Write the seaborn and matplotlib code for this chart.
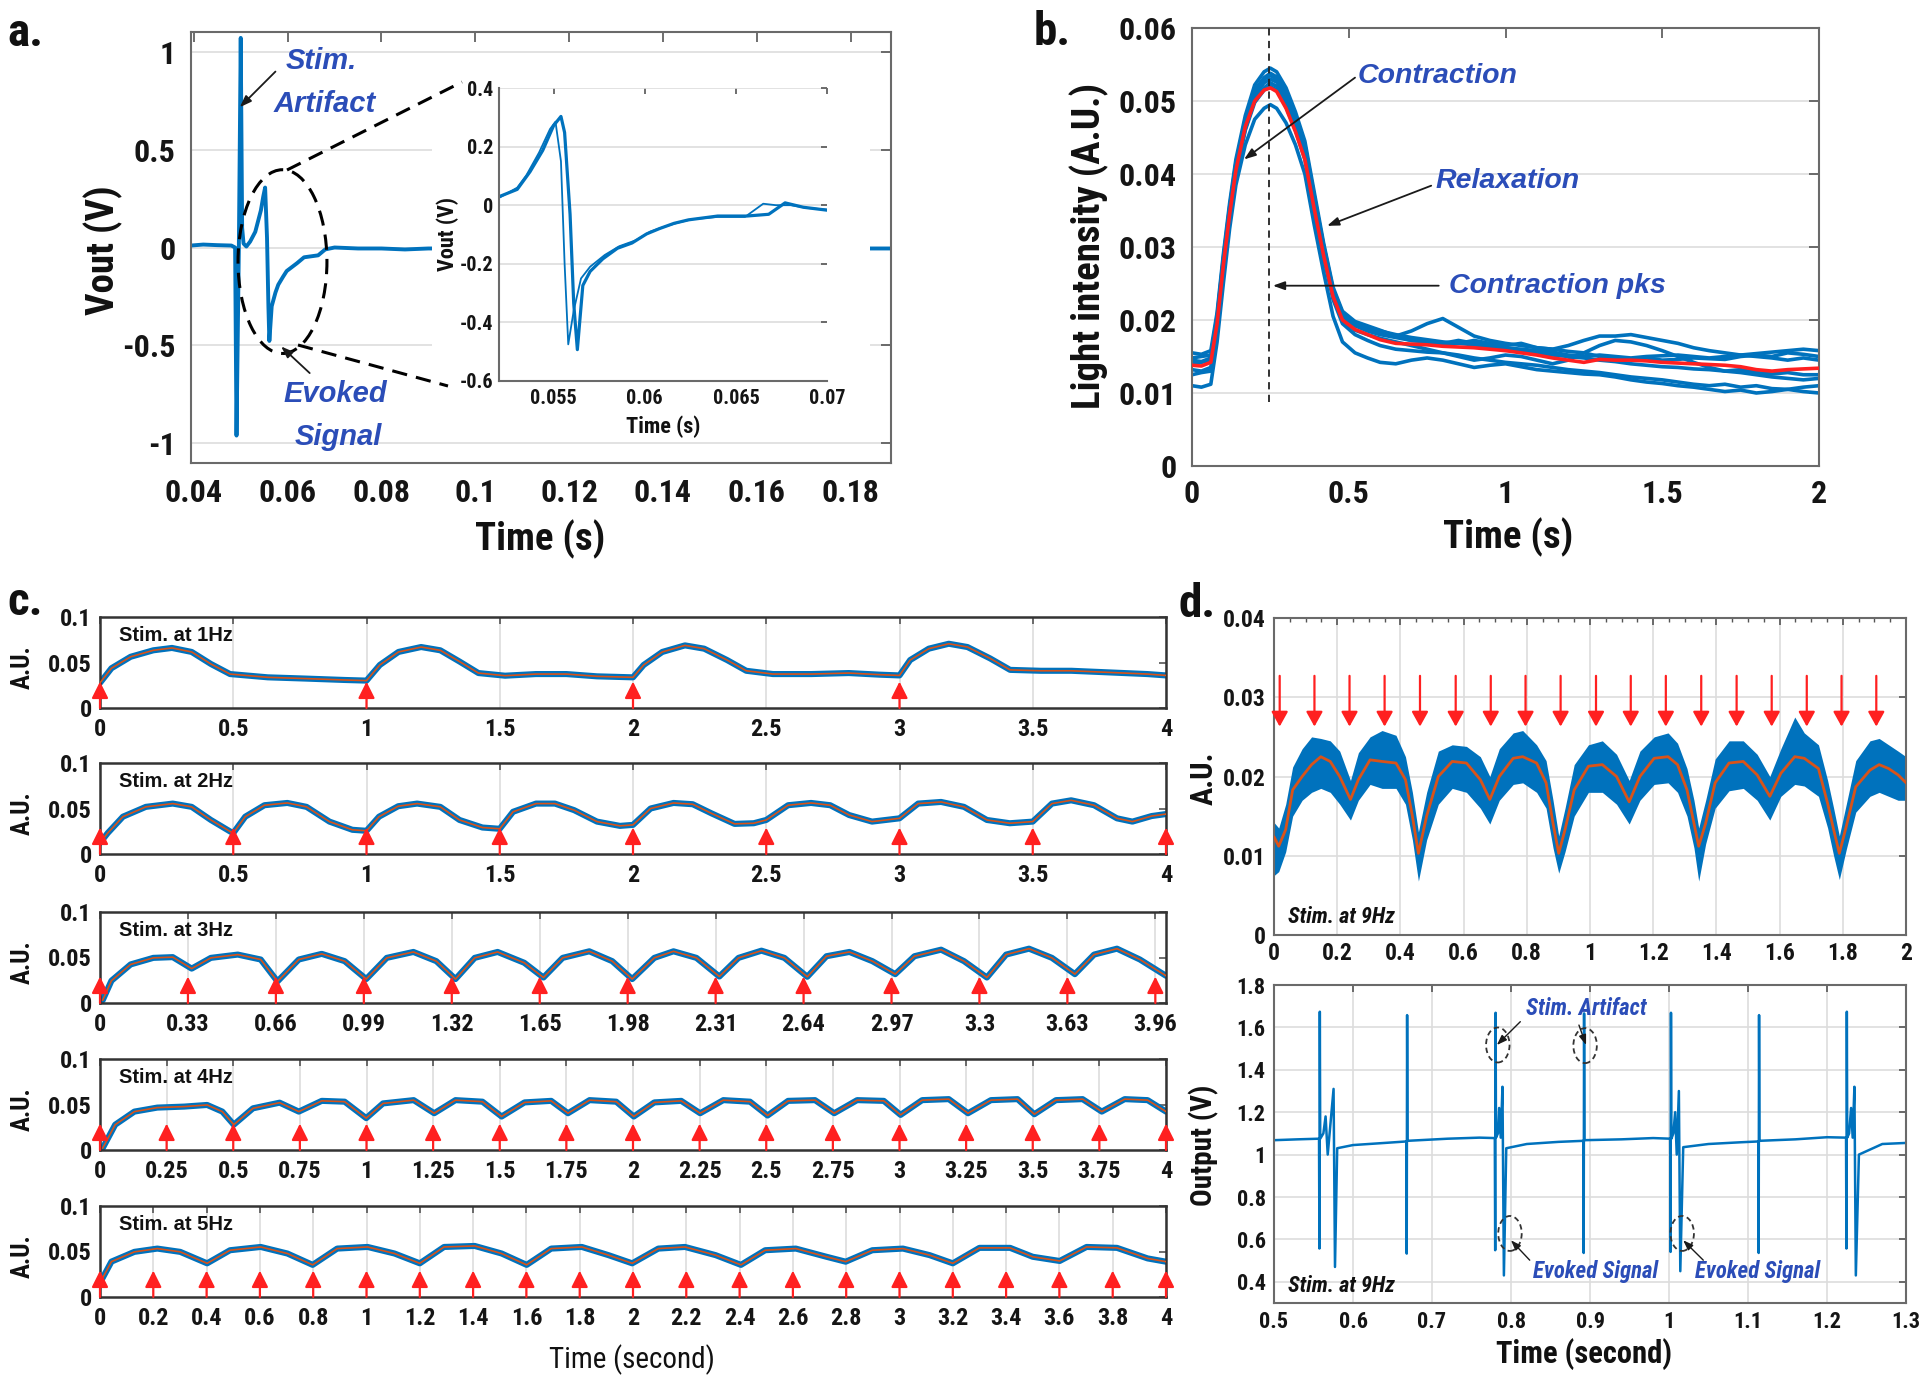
import matplotlib
matplotlib.use('Agg')
import matplotlib.pyplot as plt
import seaborn as sns
from matplotlib.patches import Ellipse
from matplotlib.lines import Line2D
from matplotlib.ticker import MultipleLocator
from matplotlib import font_manager
from matplotlib.font_manager import FontProperties

sns.set_theme(style='white')
plt.rcParams['font.family'] = ['Liberation Sans', 'DejaVu Sans']
plt.rcParams['font.weight'] = 'bold'
plt.rcParams['axes.unicode_minus'] = False

# ---------------- DATA ----------------
# panel a: main trace
a_t = [0.0394, 0.042, 0.045, 0.048, 0.0488, 0.0491, 0.0496, 0.0500, 0.0503, 0.0506, 0.0512, 0.052, 0.0531,
       0.0543, 0.0548, 0.0552, 0.0556, 0.0559, 0.0561, 0.0566, 0.0574, 0.058, 0.059, 0.0598, 0.062, 0.0635,
       0.0665, 0.068, 0.070, 0.075, 0.080, 0.085, 0.090, 0.100, 0.120, 0.140, 0.160, 0.180, 0.184, 0.1886]
a_v = [0.01, 0.015, 0.012, 0.01, 0.0, -0.96, 0.0, 1.07, 0.1, 0.02, 0.005, 0.03, 0.08,
       0.19, 0.26, 0.306, 0.05, -0.3, -0.477, -0.3, -0.23, -0.19, -0.15, -0.12, -0.08, -0.05,
       -0.04, -0.01, 0.0, -0.005, -0.005, -0.01, -0.005, -0.005, -0.005, -0.005, -0.005, -0.005, -0.005, -0.005]
# panel a: inset traces
ia_t1 = [0.052, 0.053, 0.0537, 0.0544, 0.055, 0.0554, 0.0556, 0.0559, 0.0561, 0.0563, 0.0566, 0.057, 0.0577,
         0.0585, 0.0593, 0.0601, 0.0608, 0.0616, 0.0624, 0.064, 0.0656, 0.0668, 0.0677, 0.0687, 0.070]
ia_v1 = [0.029, 0.054, 0.114, 0.187, 0.272, 0.303, 0.248, -0.031, -0.335, -0.493, -0.274, -0.226, -0.183,
         -0.147, -0.129, -0.098, -0.08, -0.062, -0.05, -0.037, -0.037, -0.031, 0.008, -0.007, -0.017]
ia_t2 = [0.052, 0.053, 0.0535, 0.0542, 0.0548, 0.0551, 0.0554, 0.0556, 0.0558, 0.0561, 0.0565, 0.057, 0.0578,
         0.0586, 0.0595, 0.0603, 0.061, 0.0618, 0.0626, 0.064, 0.0655, 0.0665, 0.0672, 0.068, 0.069, 0.070]
ia_v2 = [0.025, 0.06, 0.102, 0.18, 0.26, 0.285, 0.15, -0.2, -0.475, -0.36, -0.25, -0.21, -0.17,
         -0.14, -0.12, -0.09, -0.075, -0.06, -0.048, -0.04, -0.04, 0.005, 0.0, 0.0, -0.01, -0.015]
a_xticks = [0.04, 0.06, 0.08, 0.10, 0.12, 0.14, 0.16, 0.18]
a_xlabels = ['0.04', '0.06', '0.08', '0.1', '0.12', '0.14', '0.16', '0.18']
a_yticks = [-1, -0.5, 0, 0.5, 1]
a_ylabels = ['-1', '-0.5', '0', '0.5', '1']
ia_xticks = [0.055, 0.06, 0.065, 0.07]
ia_xlabels = ['0.055', '0.06', '0.065', '0.07']
ia_yticks = [-0.6, -0.4, -0.2, 0, 0.2, 0.4]
ia_ylabels = ['-0.6', '-0.4', '-0.2', '0', '0.2', '0.4']

# panel b: contraction traces
b_t = [0, 0.03, 0.06, 0.08, 0.1, 0.12, 0.14, 0.17, 0.2, 0.23, 0.25, 0.27, 0.3, 0.33, 0.36, 0.39, 0.42, 0.45,
       0.48, 0.52, 0.56, 0.6, 0.65, 0.7, 0.75, 0.8, 0.85, 0.9, 0.95, 1.0, 1.05, 1.1, 1.15, 1.2, 1.25, 1.3,
       1.35, 1.4, 1.45, 1.5, 1.55, 1.6, 1.65, 1.7, 1.75, 1.8, 1.85, 1.9, 1.95, 2.0]
b_mean = [0.0138, 0.0137, 0.0142, 0.0195, 0.0275, 0.0345, 0.0405, 0.0465, 0.0500, 0.0515, 0.0518, 0.0513,
          0.0490, 0.0458, 0.0420, 0.0352, 0.0288, 0.0232, 0.0200, 0.0187, 0.0180, 0.0173, 0.0168, 0.0167,
          0.0166, 0.0164, 0.0163, 0.0162, 0.0160, 0.0158, 0.0155, 0.0152, 0.0148, 0.0145, 0.0142, 0.0146,
          0.0145, 0.0145, 0.0144, 0.0142, 0.0141, 0.0140, 0.0139, 0.0138, 0.0136, 0.0132, 0.0130, 0.0132,
          0.0133, 0.0134]
b_tr1 = [0.0155, 0.0153, 0.0158, 0.021, 0.029, 0.036, 0.042, 0.048, 0.0522, 0.0540, 0.0545, 0.0540, 0.0518,
         0.0485, 0.0445, 0.0375, 0.0305, 0.0245, 0.0212, 0.0198, 0.0192, 0.0186, 0.0178, 0.0172, 0.0170,
         0.0168, 0.0172, 0.0168, 0.0165, 0.0162, 0.0160, 0.0158, 0.0156, 0.0152, 0.0150, 0.0152, 0.0150,
         0.0148, 0.0150, 0.0151, 0.0152, 0.0150, 0.0148, 0.0150, 0.0152, 0.0154, 0.0156, 0.0158, 0.0160, 0.0158]
b_tr2 = [0.0148, 0.0150, 0.0152, 0.0205, 0.0285, 0.0355, 0.0415, 0.0475, 0.0515, 0.0532, 0.0538, 0.0533,
         0.0510, 0.0478, 0.0440, 0.0370, 0.0300, 0.0240, 0.0208, 0.0195, 0.0188, 0.0182, 0.0178, 0.0185,
         0.0195, 0.0202, 0.0190, 0.0178, 0.0172, 0.0168, 0.0165, 0.0162, 0.0160, 0.0157, 0.0155, 0.0150,
         0.0148, 0.0146, 0.0148, 0.0145, 0.0146, 0.0148, 0.0147, 0.0146, 0.0150, 0.0152, 0.0150, 0.0155,
         0.0153, 0.0150]
b_tr3 = [0.0140, 0.0142, 0.0145, 0.0200, 0.0280, 0.0350, 0.0410, 0.0470, 0.0508, 0.0525, 0.0530, 0.0526,
         0.0505, 0.0472, 0.0435, 0.0365, 0.0298, 0.0238, 0.0205, 0.0192, 0.0185, 0.0180, 0.0176, 0.0172,
         0.0170, 0.0166, 0.0168, 0.0172, 0.0168, 0.0165, 0.0168, 0.0162, 0.0160, 0.0165, 0.0172, 0.0178,
         0.0178, 0.0180, 0.0176, 0.0172, 0.0168, 0.0162, 0.0158, 0.0155, 0.0152, 0.0150, 0.0148, 0.0145,
         0.0148, 0.0145]
b_tr4 = [0.0132, 0.0130, 0.0135, 0.0190, 0.0270, 0.0340, 0.0400, 0.0460, 0.0498, 0.0515, 0.0520, 0.0515,
         0.0492, 0.0460, 0.0420, 0.0350, 0.0285, 0.0228, 0.0195, 0.0180, 0.0172, 0.0165, 0.0160, 0.0158,
         0.0156, 0.0155, 0.0152, 0.0148, 0.0145, 0.0142, 0.0140, 0.0138, 0.0135, 0.0132, 0.0130, 0.0128,
         0.0125, 0.0122, 0.0120, 0.0118, 0.0115, 0.0112, 0.0110, 0.0112, 0.0108, 0.0110, 0.0106, 0.0105,
         0.0108, 0.0110]
b_tr5 = [0.0110, 0.0108, 0.0112, 0.0170, 0.0250, 0.0325, 0.0385, 0.0440, 0.0475, 0.0490, 0.0495, 0.0490,
         0.0470, 0.0440, 0.0400, 0.0330, 0.0265, 0.0205, 0.0170, 0.0155, 0.0148, 0.0142, 0.0140, 0.0145,
         0.0148, 0.0145, 0.0140, 0.0135, 0.0138, 0.0140, 0.0136, 0.0132, 0.0130, 0.0128, 0.0126, 0.0125,
         0.0122, 0.0118, 0.0115, 0.0113, 0.0110, 0.0108, 0.0105, 0.0102, 0.0104, 0.0100, 0.0102, 0.0105,
         0.0102, 0.0100]
b_tr6 = [0.0125, 0.0128, 0.0130, 0.0188, 0.0268, 0.0340, 0.0402, 0.0462, 0.0502, 0.0518, 0.0525, 0.0520,
         0.0498, 0.0465, 0.0428, 0.0358, 0.0292, 0.0235, 0.0200, 0.0186, 0.0180, 0.0175, 0.0170, 0.0165,
         0.0160, 0.0155, 0.0150, 0.0145, 0.0148, 0.0152, 0.0150, 0.0145, 0.0140, 0.0145, 0.0155, 0.0165,
         0.0172, 0.0170, 0.0165, 0.0158, 0.0150, 0.0142, 0.0135, 0.0130, 0.0128, 0.0125, 0.0122, 0.0120,
         0.0118, 0.0120]
b_tr7 = [0.0145, 0.0143, 0.0148, 0.0202, 0.0282, 0.0352, 0.0412, 0.0472, 0.0512, 0.0530, 0.0535, 0.0530,
         0.0508, 0.0475, 0.0438, 0.0368, 0.0302, 0.0242, 0.0210, 0.0196, 0.0190, 0.0185, 0.0180, 0.0176,
         0.0173, 0.0170, 0.0168, 0.0166, 0.0163, 0.0160, 0.0157, 0.0155, 0.0152, 0.0150, 0.0148, 0.0145,
         0.0143, 0.0140, 0.0138, 0.0136, 0.0135, 0.0133, 0.0132, 0.0130, 0.0132, 0.0128, 0.0126, 0.0128,
         0.0125, 0.0125]
b_peak_t = 0.247
b_xticks = [0, 0.5, 1, 1.5, 2]
b_xlabels = ['0', '0.5', '1', '1.5', '2']
b_yticks = [0, 0.01, 0.02, 0.03, 0.04, 0.05, 0.06]
b_ylabels = ['0', '0.01', '0.02', '0.03', '0.04', '0.05', '0.06']

# panel c: five stimulation frequencies
c1_t = [0, 0.043, 0.115, 0.2, 0.27, 0.344, 0.416, 0.488, 0.63, 0.775, 0.918, 1.0, 1.05, 1.12, 1.205, 1.277,
        1.35, 1.42, 1.52, 1.636, 1.75, 1.865, 2.0, 2.04, 2.11, 2.195, 2.267, 2.353, 2.425, 2.525, 2.67, 2.81,
        2.927, 3.0, 3.04, 3.11, 3.185, 3.255, 3.34, 3.415, 3.53, 3.645, 3.788, 3.93, 4.0]
c1_v = [0.0276, 0.0437, 0.0563, 0.0634, 0.066, 0.0616, 0.0484, 0.0373, 0.0337, 0.0323, 0.0308, 0.0301,
        0.0473, 0.0616, 0.067, 0.0634, 0.0509, 0.0384, 0.0355, 0.0373, 0.0373, 0.0348, 0.0337, 0.0473,
        0.0616, 0.0688, 0.0652, 0.0527, 0.0409, 0.0373, 0.0373, 0.0384, 0.0366, 0.0358, 0.0527, 0.0652,
        0.0706, 0.067, 0.0545, 0.0419, 0.0409, 0.0409, 0.0391, 0.0373, 0.0358]
c2_t = [0, 0.029, 0.086, 0.172, 0.273, 0.344, 0.416, 0.488, 0.5, 0.545, 0.617, 0.703, 0.775, 0.861, 0.947,
        1.0, 1.047, 1.119, 1.19, 1.277, 1.349, 1.435, 1.5, 1.55, 1.636, 1.707, 1.779, 1.865, 1.951, 2.0,
        2.066, 2.152, 2.224, 2.295, 2.381, 2.453, 2.5, 2.582, 2.668, 2.74, 2.811, 2.897, 3.0, 3.07, 3.156,
        3.242, 3.328, 3.414, 3.5, 3.572, 3.644, 3.73, 3.816, 3.874, 3.946, 4.0]
c2_v = [0.0122, 0.023, 0.041, 0.0518, 0.0554, 0.0518, 0.0374, 0.0248, 0.023, 0.041, 0.0536, 0.0561, 0.0518,
        0.0356, 0.0266, 0.0255, 0.041, 0.0525, 0.0554, 0.0518, 0.0374, 0.0291, 0.0277, 0.0464, 0.0554,
        0.0554, 0.0482, 0.0356, 0.0309, 0.032, 0.05, 0.0561, 0.0547, 0.0446, 0.0331, 0.0338, 0.0374, 0.0536,
        0.0561, 0.0536, 0.0428, 0.0356, 0.0392, 0.0554, 0.0572, 0.0518, 0.0374, 0.0338, 0.0356, 0.0554,
        0.059, 0.0536, 0.0392, 0.0356, 0.0417, 0.0439]
c3_t = [0.01, 0.043, 0.115, 0.2, 0.273, 0.344, 0.416, 0.517, 0.603, 0.666, 0.746, 0.832, 0.918, 0.999, 1.076,
        1.176, 1.262, 1.334, 1.406, 1.492, 1.592, 1.664, 1.736, 1.836, 1.922, 1.997, 2.08, 2.152, 2.238,
        2.324, 2.396, 2.482, 2.568, 2.654, 2.726, 2.812, 2.898, 2.984, 3.056, 3.156, 3.242, 3.328, 3.4,
        3.486, 3.572, 3.658, 3.73, 3.816, 3.902, 4.0]
c3_v = [0.003, 0.0245, 0.0424, 0.0496, 0.0504, 0.0378, 0.0496, 0.0532, 0.0478, 0.0237, 0.0478, 0.054, 0.046,
        0.0263, 0.0496, 0.0561, 0.046, 0.0263, 0.0496, 0.0561, 0.0442, 0.028, 0.0496, 0.0568, 0.046, 0.0263,
        0.0496, 0.0568, 0.0496, 0.0291, 0.0496, 0.0575, 0.0496, 0.0288, 0.0514, 0.0561, 0.046, 0.0317,
        0.0514, 0.0586, 0.046, 0.028, 0.0532, 0.0597, 0.0496, 0.0317, 0.0532, 0.0597, 0.0478, 0.0299]
c4_t = [0.01, 0.057, 0.129, 0.215, 0.316, 0.402, 0.459, 0.502, 0.574, 0.674, 0.746, 0.832, 0.918, 0.999,
        1.062, 1.177, 1.254, 1.334, 1.435, 1.507, 1.593, 1.693, 1.756, 1.837, 1.937, 2.003, 2.08, 2.181,
        2.252, 2.339, 2.439, 2.505, 2.582, 2.683, 2.755, 2.841, 2.941, 3.004, 3.085, 3.185, 3.257, 3.343,
        3.443, 3.506, 3.587, 3.687, 3.759, 3.845, 3.931, 4.0]
c4_v = [0.002, 0.0278, 0.0422, 0.0466, 0.0477, 0.0495, 0.0422, 0.0278, 0.0458, 0.052, 0.0422, 0.054, 0.0531,
        0.035, 0.0512, 0.0548, 0.0404, 0.0548, 0.0531, 0.0368, 0.0523, 0.054, 0.0404, 0.0548, 0.0531, 0.0368,
        0.0523, 0.054, 0.0404, 0.0548, 0.0531, 0.0379, 0.054, 0.0548, 0.0404, 0.0548, 0.054, 0.0386, 0.0548,
        0.0559, 0.0404, 0.0548, 0.0559, 0.0393, 0.0548, 0.0559, 0.0422, 0.0559, 0.0548, 0.0422]
c5_t = [0, 0.043, 0.129, 0.215, 0.301, 0.402, 0.488, 0.603, 0.703, 0.798, 0.89, 1.004, 1.105, 1.2, 1.291,
        1.406, 1.507, 1.601, 1.693, 1.808, 1.908, 1.997, 2.095, 2.195, 2.31, 2.405, 2.496, 2.611, 2.726,
        2.798, 2.898, 3.013, 3.113, 3.2, 3.3, 3.415, 3.5, 3.601, 3.702, 3.816, 3.931, 4.0]
c5_v = [0.0155, 0.0389, 0.0496, 0.0532, 0.0496, 0.037, 0.0514, 0.055, 0.0478, 0.0353, 0.0532, 0.055, 0.0478,
        0.037, 0.055, 0.0561, 0.0478, 0.0353, 0.0532, 0.055, 0.046, 0.037, 0.0532, 0.055, 0.046, 0.0353,
        0.0514, 0.0532, 0.0442, 0.0388, 0.0514, 0.0532, 0.046, 0.037, 0.054, 0.054, 0.0442, 0.0396, 0.055,
        0.054, 0.0424, 0.0388]
c_names = ['Stim. at 1Hz', 'Stim. at 2Hz', 'Stim. at 3Hz', 'Stim. at 4Hz', 'Stim. at 5Hz']
c1_stim = [0, 1, 2, 3]
c2_stim = [0, 0.5, 1, 1.5, 2, 2.5, 3, 3.5, 4]
c3_stim = [0, 0.33, 0.66, 0.99, 1.32, 1.65, 1.98, 2.31, 2.64, 2.97, 3.3, 3.63, 3.96]
c4_stim = [0, 0.25, 0.5, 0.75, 1, 1.25, 1.5, 1.75, 2, 2.25, 2.5, 2.75, 3, 3.25, 3.5, 3.75, 4]
c5_stim = [0, 0.2, 0.4, 0.6, 0.8, 1, 1.2, 1.4, 1.6, 1.8, 2, 2.2, 2.4, 2.6, 2.8, 3, 3.2, 3.4, 3.6, 3.8, 4]
c1_xlabels = ['0', '0.5', '1', '1.5', '2', '2.5', '3', '3.5', '4']
c3_xlabels = ['0', '0.33', '0.66', '0.99', '1.32', '1.65', '1.98', '2.31', '2.64', '2.97', '3.3', '3.63', '3.96']
c4_xlabels = ['0', '0.25', '0.5', '0.75', '1', '1.25', '1.5', '1.75', '2', '2.25', '2.5', '2.75', '3',
              '3.25', '3.5', '3.75', '4']
c5_xlabels = ['0', '0.2', '0.4', '0.6', '0.8', '1', '1.2', '1.4', '1.6', '1.8', '2', '2.2', '2.4', '2.6',
              '2.8', '3', '3.2', '3.4', '3.6', '3.8', '4']
c_yticks = [0, 0.05, 0.1]
c_ylabels = ['0', '0.05', '0.1']

# panel d (top): 9 Hz optical signal
d1_t = [0.0, 0.015, 0.037, 0.059, 0.089, 0.119, 0.148, 0.178, 0.208, 0.242, 0.267, 0.304, 0.342, 0.386,
        0.416, 0.438, 0.457, 0.483, 0.520, 0.564, 0.609, 0.653, 0.683, 0.713, 0.757, 0.787, 0.831, 0.861,
        0.883, 0.901, 0.921, 0.950, 0.995, 1.039, 1.084, 1.124, 1.158, 1.203, 1.247, 1.277, 1.307, 1.329,
        1.344, 1.366, 1.396, 1.440, 1.485, 1.529, 1.569, 1.604, 1.648, 1.678, 1.723, 1.752, 1.771, 1.789,
        1.811, 1.841, 1.886, 1.915, 1.945, 1.975, 2.000]
d1_smooth = [0.0124, 0.0112, 0.0133, 0.0183, 0.0200, 0.0215, 0.0225, 0.0219, 0.0200, 0.0171, 0.0196,
             0.0221, 0.0219, 0.0217, 0.0196, 0.0150, 0.0103, 0.0150, 0.0200, 0.0219, 0.0217, 0.0196, 0.0171,
             0.0200, 0.0223, 0.0225, 0.0217, 0.0192, 0.0141, 0.0103, 0.0133, 0.0183, 0.0213, 0.0215, 0.0200,
             0.0168, 0.0200, 0.0223, 0.0225, 0.0215, 0.0183, 0.0141, 0.0112, 0.0141, 0.0192, 0.0217, 0.0219,
             0.0202, 0.0175, 0.0204, 0.0225, 0.0223, 0.0210, 0.0166, 0.0133, 0.0103, 0.0137, 0.0187, 0.0208,
             0.0215, 0.0210, 0.0202, 0.0192]
d1_upper = [0.0142, 0.0135, 0.0165, 0.0212, 0.0235, 0.0250, 0.0248, 0.0245, 0.0232, 0.0195, 0.0230, 0.0250,
            0.0258, 0.0252, 0.0225, 0.0180, 0.0130, 0.0180, 0.0232, 0.0240, 0.0238, 0.0225, 0.0200, 0.0235,
            0.0255, 0.0258, 0.0240, 0.0220, 0.0170, 0.0125, 0.0160, 0.0215, 0.0240, 0.0245, 0.0228, 0.0195,
            0.0232, 0.0250, 0.0255, 0.0242, 0.0210, 0.0170, 0.0135, 0.0170, 0.0222, 0.0245, 0.0245, 0.0228,
            0.0200, 0.0235, 0.0275, 0.0255, 0.0240, 0.0195, 0.0160, 0.0125, 0.0165, 0.0220, 0.0245, 0.0248,
            0.0240, 0.0232, 0.0225]
d1_lower = [0.0075, 0.0080, 0.0105, 0.0150, 0.0170, 0.0180, 0.0185, 0.0180, 0.0165, 0.0145, 0.0170, 0.0190,
            0.0185, 0.0185, 0.0165, 0.0120, 0.0068, 0.0120, 0.0165, 0.0185, 0.0180, 0.0160, 0.0140, 0.0170,
            0.0190, 0.0192, 0.0180, 0.0160, 0.0110, 0.0078, 0.0105, 0.0150, 0.0180, 0.0180, 0.0165, 0.0140,
            0.0170, 0.0190, 0.0192, 0.0180, 0.0150, 0.0110, 0.0068, 0.0115, 0.0160, 0.0182, 0.0185, 0.0170,
            0.0145, 0.0175, 0.0190, 0.0188, 0.0175, 0.0135, 0.0100, 0.0070, 0.0108, 0.0155, 0.0175, 0.0180,
            0.0175, 0.0170, 0.0170]
d1_stim = [0.018, 0.128, 0.239, 0.35, 0.462, 0.575, 0.686, 0.796, 0.907, 1.019, 1.129, 1.24, 1.352, 1.464,
           1.575, 1.686, 1.796, 1.906]
d1_xticks = [0, 0.2, 0.4, 0.6, 0.8, 1.0, 1.2, 1.4, 1.6, 1.8, 2.0]
d1_xlabels = ['0', '0.2', '0.4', '0.6', '0.8', '1', '1.2', '1.4', '1.6', '1.8', '2']
d1_yticks = [0, 0.01, 0.02, 0.03, 0.04]
d1_ylabels = ['0', '0.01', '0.02', '0.03', '0.04']

# panel d (bottom): 9 Hz electrical output
d2_t = [0.5, 0.53, 0.557, 0.5575, 0.5580, 0.5585, 0.5625, 0.5653, 0.568, 0.5754, 0.5772, 0.580, 0.6, 0.64,
        0.6675, 0.668, 0.6685, 0.669, 0.72, 0.76, 0.7795, 0.780, 0.7805, 0.781, 0.7835, 0.785, 0.787, 0.7892,
        0.791, 0.794, 0.82, 0.86, 0.8915, 0.892, 0.8925, 0.893, 0.94, 0.98, 1.0015, 1.002, 1.0025, 1.003,
        1.0055, 1.0078, 1.0098, 1.0125, 1.0143, 1.018, 1.05, 1.09, 1.113, 1.1135, 1.114, 1.1145, 1.16, 1.2,
        1.2241, 1.2246, 1.2251, 1.2256, 1.228, 1.2305, 1.2325, 1.2347, 1.2365, 1.2404, 1.27, 1.3]
d2_v = [1.068, 1.072, 1.075, 0.557, 1.674, 1.075, 1.10, 1.18, 1.0, 1.31, 0.47, 1.03, 1.045, 1.055,
        1.062, 0.533, 1.658, 1.065, 1.075, 1.08, 1.078, 0.549, 1.669, 1.08, 1.10, 1.22, 1.08, 1.32,
        0.43, 1.03, 1.05, 1.06, 1.065, 0.536, 1.666, 1.068, 1.072, 1.078, 1.075, 0.541, 1.669, 1.075,
        1.10, 1.2, 1.0, 1.30, 0.45, 1.035, 1.05, 1.058, 1.062, 0.536, 1.658, 1.065, 1.072, 1.082,
        1.08, 0.557, 1.674, 1.08, 1.10, 1.22, 1.08, 1.32, 0.43, 1.0, 1.05, 1.055]
d2_xticks = [0.5, 0.6, 0.7, 0.8, 0.9, 1.0, 1.1, 1.2, 1.3]
d2_xlabels = ['0.5', '0.6', '0.7', '0.8', '0.9', '1', '1.1', '1.2', '1.3']
d2_yticks = [0.4, 0.6, 0.8, 1.0, 1.2, 1.4, 1.6, 1.8]
d2_ylabels = ['0.4', '0.6', '0.8', '1', '1.2', '1.4', '1.6', '1.8']

# ---------------- FONTS ----------------
def _wnum(w):
    if isinstance(w, (int, float)):
        return int(w)
    return {'bold': 700, 'heavy': 800, 'black': 900, 'semibold': 600, 'demibold': 600,
            'medium': 500, 'normal': 400, 'regular': 400, 'book': 400, 'light': 300}.get(str(w).lower(), 400)


def _rank(f):
    n = f.name
    if 'Liberation Sans Narrow' in n:
        return 0
    if 'Arial Narrow' in n:
        return 1
    if 'Roboto Condensed' in n:
        return 2
    if 'Condensed' in n or 'Narrow' in n:
        return 3
    if str(f.stretch).lower() in ('condensed', 'semi-condensed', 'extra-condensed'):
        return 4
    return 99


_cands = sorted([f for f in font_manager.fontManager.ttflist if _rank(f) < 99], key=_rank)


def _pick(bold, italic):
    for f in _cands:
        isb = _wnum(f.weight) >= 600
        isi = str(f.style).lower() in ('italic', 'oblique')
        if isb == bold and isi == italic:
            return f.fname
    return None


NB_FILE = _pick(True, False)
NBI_FILE = _pick(True, True)
NR_FILE = _pick(False, False)
SHRINK = 1.0 if NB_FILE else 0.86


def NF(size, bold=True, italic=False):
    f = (NBI_FILE if italic else NB_FILE) if bold else NR_FILE
    if f:
        return FontProperties(fname=f, size=size)
    return FontProperties(family=['Liberation Sans', 'DejaVu Sans'], weight='bold' if bold else 'normal',
                          style='italic' if italic else 'normal', size=size * SHRINK)


def RF(size, italic=False):
    return FontProperties(family=['Liberation Sans', 'DejaVu Sans'], weight='bold',
                          style='italic' if italic else 'normal', size=size)


# ---------------- STYLE ----------------
BLUE = '#0072BD'
ORANGE = '#D95319'
RED = '#FF2020'
BTXT = '#2B4DB8'
GRID = '#dddddd'
W, H = 1926, 1385


def rect(l, t, r, b):
    return [l / W, 1 - b / H, (r - l) / W, (b - t) / H]


def fx(px):
    return px / W


def fy(py):
    return 1 - py / H


def line(ax, x, y, color, lw, z=2):
    sns.lineplot(x=x, y=y, ax=ax, color=color, linewidth=lw, estimator=None, sort=False,
                 legend=False, zorder=z)
    ax.set_xlabel('')
    ax.set_ylabel('')


def style(ax, xt, xl, yt, yl, xlim, ylim, tsize, xpad, ypad, gx=False, gy=False,
          sc='#6a6a6a', slw=1.5, tl=7):
    ax.set_xlim(xlim)
    ax.set_ylim(ylim)
    ax.set_xticks(xt)
    ax.set_xticklabels(xl)
    ax.set_yticks(yt)
    ax.set_yticklabels(yl)
    ax.tick_params(direction='in', top=True, right=True, length=tl, width=1.2, color='#555555',
                   labelcolor='#151515')
    ax.tick_params(axis='x', pad=xpad)
    ax.tick_params(axis='y', pad=ypad)
    for lab in ax.get_xticklabels() + ax.get_yticklabels():
        lab.set_fontproperties(NF(tsize))
    for s in ax.spines.values():
        s.set_color(sc)
        s.set_linewidth(slw)
        s.set_visible(True)
    ax.grid(False)
    if gx:
        ax.xaxis.grid(True, color=GRID, lw=1.2)
    if gy:
        ax.yaxis.grid(True, color=GRID, lw=1.2)
    ax.set_axisbelow(True)
    ax.set_facecolor('white')


def ftext(px, py, s, fp, rot=0, color='#111111', va='center'):
    fig.text(fx(px), fy(py), s, fontproperties=fp, rotation=rot, ha='center', va=va, color=color)


def btext(ax, x, y, s, fp):
    ax.text(x, y, s, fontproperties=fp, ha='center', va='center', color=BTXT, zorder=6)


def arrow(ax, xy, xytext, ms=14, lw=1.3, color='#1a1a1a'):
    ax.annotate('', xy=xy, xytext=xytext,
                arrowprops=dict(arrowstyle='-|>,head_length=0.5,head_width=0.18', color=color, lw=lw,
                                mutation_scale=ms, shrinkA=0, shrinkB=0), zorder=6)


fig = plt.figure(figsize=(19.26, 13.85), dpi=100)
fig.patch.set_facecolor('white')

# ---------------- PANEL A ----------------
ax_a = fig.add_axes(rect(191, 32, 891, 463))
ax_a.set_zorder(1)
line(ax_a, a_t, a_v, BLUE, 2.8)
style(ax_a, a_xticks, a_xlabels, a_yticks, a_ylabels, (0.0394, 0.1886), (-1.1, 1.1), 23, 11, 11, gy=True)
ax_a.add_patch(Ellipse((0.0589, -0.072), 0.01895, 0.938, fill=False, ec='black', lw=2.2,
                       ls=(0, (5, 3)), zorder=5))
btext(ax_a, 0.0671, 0.953, 'Stim.', RF(21, True))
btext(ax_a, 0.0678, 0.734, 'Artifact', RF(21, True))
btext(ax_a, 0.0702, -0.750, 'Evoked', RF(21, True))
btext(ax_a, 0.0708, -0.969, 'Signal', RF(21, True))
arrow(ax_a, (0.0498, 0.716), (0.0574, 0.898))
arrow(ax_a, (0.0586, -0.505), (0.0647, -0.641))

bg = fig.add_axes(rect(432, 70, 870, 438))
bg.set_zorder(2)
bg.set_facecolor('white')
bg.set_xticks([])
bg.set_yticks([])
for s in bg.spines.values():
    s.set_visible(False)

ins = fig.add_axes(rect(499, 88, 827, 381))
ins.set_zorder(3)
line(ins, ia_t2, ia_v2, BLUE, 1.3)
line(ins, ia_t1, ia_v1, BLUE, 2.3)
style(ins, ia_xticks, ia_xlabels, ia_yticks, ia_ylabels, (0.052, 0.070), (-0.6, 0.4), 14.5, 6, 4,
      gy=True, tl=4)
ins.spines['top'].set_visible(False)
ins.spines['right'].set_visible(False)

for (x0, y0, x1, y1) in [(287, 170, 462, 82), (298, 345, 448, 386)]:
    fig.add_artist(Line2D([fx(x0), fx(x1)], [fy(y0), fy(y1)], transform=fig.transFigure,
                          color='black', lw=2.2, ls=(0, (5, 3)), zorder=10))

ftext(103, 250, 'Vout (V)', NF(28), rot=90)
ftext(540, 539, 'Time (s)', NF(28))
ftext(448, 234, 'Vout (V)', NF(16), rot=90)
ftext(663, 427, 'Time (s)', NF(16))
ftext(25, 46, 'a.', NF(34), va='baseline')

# ---------------- PANEL B ----------------
ax_b = fig.add_axes(rect(1192, 28, 1819, 466))
for tr in [b_tr1, b_tr2, b_tr3, b_tr4, b_tr5, b_tr6, b_tr7]:
    line(ax_b, b_t, tr, BLUE, 2.6)
line(ax_b, b_t, b_mean, RED, 2.6, z=3)
ax_b.vlines(b_peak_t, 0.0088, 0.06, colors='#222222', lw=1.3, linestyles=(0, (4, 3)), zorder=4)
style(ax_b, b_xticks, b_xlabels, b_yticks, b_ylabels, (0, 2), (0, 0.06), 23, 9.5, 11, gy=True)
btext(ax_b, 0.782, 0.0534, 'Contraction', RF(20.5, True))
btext(ax_b, 1.008, 0.0391, 'Relaxation', RF(20.5, True))
btext(ax_b, 1.165, 0.0247, 'Contraction pks', RF(20.5, True))
arrow(ax_b, (0.166, 0.0420), (0.52, 0.0532))
arrow(ax_b, (0.431, 0.0329), (0.763, 0.0384))
arrow(ax_b, (0.258, 0.0247), (0.787, 0.0247))
ftext(1089, 246, 'Light intensity (A.U.)', NF(28), rot=90)
ftext(1508, 537, 'Time (s)', NF(28))
ftext(1052, 45, 'b.', NF(34), va='baseline')

# ---------------- PANEL C ----------------
c_tops = [617, 763, 912, 1059, 1206]
c_series = [(c1_t, c1_v, c1_stim, c2_stim, c1_xlabels),
            (c2_t, c2_v, c2_stim, c2_stim, c1_xlabels),
            (c3_t, c3_v, c3_stim, c3_stim, c3_xlabels),
            (c4_t, c4_v, c4_stim, c4_stim, c4_xlabels),
            (c5_t, c5_v, c5_stim, c5_stim, c5_xlabels)]
for i, (tt, vv, stim, xt, xl) in enumerate(c_series):
    top = c_tops[i]
    ax = fig.add_axes(rect(100, top, 1166, top + 91))
    line(ax, tt, vv, BLUE, 4.4)
    line(ax, tt, vv, ORANGE, 1.2, z=3)
    style(ax, xt, xl, c_yticks, c_ylabels, (0, 4), (0, 0.1), 17.5, 7, 6, gx=True, sc='#333333', slw=1.8,
          tl=5)
    for s in stim:
        ax.annotate('', xy=(s, 0.029), xytext=(s, 0.0),
                    arrowprops=dict(arrowstyle='-|>,head_length=0.5,head_width=0.25', color=RED, lw=1.6,
                                    mutation_scale=20, shrinkA=0, shrinkB=0),
                    annotation_clip=False, zorder=5)
    ax.text(0.0175, 0.80, c_names[i], transform=ax.transAxes, fontproperties=RF(14.5), ha='left',
            va='center', color='#111111', zorder=6)
    ftext(23, top + 50, 'A.U.', NF(18), rot=90)
ftext(632, 1360, 'Time (second)', NF(21, bold=False))
ftext(25, 615, 'c.', NF(34), va='baseline')

# ---------------- PANEL D (top) ----------------
ax_d1 = fig.add_axes(rect(1274, 618, 1906, 935))
ax_d1.fill_between(d1_t, d1_lower, d1_upper, color=BLUE, lw=0, zorder=2)
line(ax_d1, d1_t, d1_smooth, ORANGE, 2.0, z=3)
style(ax_d1, d1_xticks, d1_xlabels, d1_yticks, d1_ylabels, (0, 2), (0, 0.04), 17, 5, 6, gx=True, gy=True,
      tl=5)
ax_d1.xaxis.set_minor_locator(MultipleLocator(0.05))
ax_d1.tick_params(which='minor', direction='in', top=True, length=3, width=1, color='#555555')
for s in d1_stim:
    ax_d1.annotate('', xy=(s, 0.0263), xytext=(s, 0.0327),
                   arrowprops=dict(arrowstyle='-|>,head_length=0.45,head_width=0.25', color=RED, lw=1.6,
                                   mutation_scale=20, shrinkA=0, shrinkB=0), zorder=5)
ax_d1.text(0.0215, 0.057, 'Stim. at 9Hz', transform=ax_d1.transAxes, fontproperties=NF(16, italic=True),
           ha='left', va='center', color='#111111')
ftext(1204, 778, 'A.U.', NF(22), rot=90)
ftext(1197, 617, 'd.', NF(34), va='baseline')

# ---------------- PANEL D (bottom) ----------------
ax_d2 = fig.add_axes(rect(1274, 985, 1906, 1303))
line(ax_d2, d2_t, d2_v, BLUE, 1.8)
style(ax_d2, d2_xticks, d2_xlabels, d2_yticks, d2_ylabels, (0.5, 1.3), (0.3, 1.8), 16, 6, 6, gx=True,
      gy=True, tl=5)
for (ex, ey) in [(0.7833, 1.517), (0.8938, 1.514), (0.7987, 0.628), (1.0167, 0.628)]:
    ax_d2.add_patch(Ellipse((ex, ey), 0.0297, 0.165, fill=False, ec='#333333', lw=1.3, ls=(0, (3, 2)),
                            zorder=5))
btext(ax_d2, 0.895, 1.69, 'Stim. Artifact', NF(16.5, italic=True))
btext(ax_d2, 0.9068, 0.447, 'Evoked Signal', NF(16.5, italic=True))
btext(ax_d2, 1.1117, 0.447, 'Evoked Signal', NF(16.5, italic=True))
arrow(ax_d2, (0.7821, 1.517), (0.8118, 1.627), ms=12, lw=1.0)
arrow(ax_d2, (0.895, 1.517), (0.886, 1.611), ms=12, lw=1.0)
arrow(ax_d2, (0.7999, 0.596), (0.8237, 0.502), ms=12, lw=1.0)
arrow(ax_d2, (1.0179, 0.596), (1.0434, 0.502), ms=12, lw=1.0)
ax_d2.text(0.0215, 0.052, 'Stim. at 9Hz', transform=ax_d2.transAxes, fontproperties=NF(16, italic=True),
           ha='left', va='center', color='#111111')
ftext(1204, 1145, 'Output (V)', NF(21), rot=90)
ftext(1584, 1354, 'Time (second)', NF(22))

fig.savefig('out.png', dpi=100, facecolor='white')
